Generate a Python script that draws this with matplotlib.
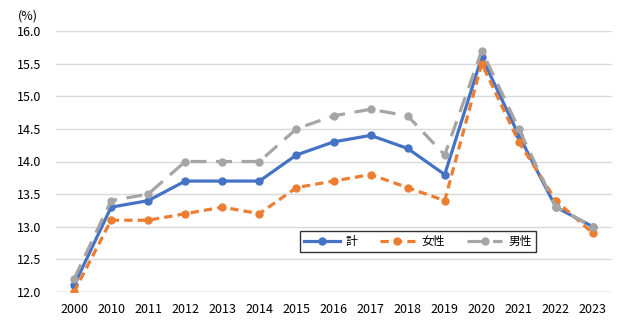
import matplotlib.pyplot as plt
import numpy as np

plt.rcParams['font.family'] = ['Noto Sans CJK JP', 'DejaVu Sans']

years = ['2000', '2010', '2011', '2012', '2013', '2014', '2015', '2016',
         '2017', '2018', '2019', '2020', '2021', '2022', '2023']
total = [12.1, 13.3, 13.4, 13.7, 13.7, 13.7, 14.1, 14.3, 14.4, 14.2, 13.8, 15.6, 14.4, 13.3, 13.0]
female = [12.0, 13.1, 13.1, 13.2, 13.3, 13.2, 13.6, 13.7, 13.8, 13.6, 13.4, 15.5, 14.3, 13.4, 12.9]
male = [12.2, 13.4, 13.5, 14.0, 14.0, 14.0, 14.5, 14.7, 14.8, 14.7, 14.1, 15.7, 14.5, 13.3, 13.0]

fig = plt.figure(figsize=(6.17, 3.23), dpi=100)
ax = fig.add_axes([55.5 / 617, (323 - 292) / 323, 556 / 617, 261 / 323])

x = np.arange(len(years))
ax.plot(x, total, color='#4472C4', lw=2.3, marker='o', ms=5, label='計', zorder=2)
ax.plot(x, female, color='#ED7D31', lw=2.3, marker='o', ms=5, label='女性',
        dashes=(2.6, 1.6), zorder=3)
ax.plot(x, male, color='#A5A5A5', lw=2.3, marker='o', ms=5, label='男性',
        dashes=(5, 3), zorder=4)

ax.set_xlim(-0.5, len(years) - 0.5)
ax.set_ylim(12.0, 16.0)
ax.set_yticks(np.arange(12.0, 16.01, 0.5))
ax.set_yticklabels([f'{v:.1f}' for v in np.arange(12.0, 16.01, 0.5)])
ax.set_xticks(x)
ax.set_xticklabels(years)
ax.tick_params(length=0, labelsize=9, colors='#000000')
ax.tick_params(axis='y', pad=10)
ax.tick_params(axis='x', pad=8)
ax.grid(axis='y', color='#D9D9D9', lw=1)
ax.set_axisbelow(True)
for s in ax.spines.values():
    s.set_visible(False)
ax.axhline(12.0, color='#D9D9D9', lw=1, zorder=0)

fig.text(18 / 617, 1 - 16 / 323, '(%)', fontsize=9, va='center')

leg = ax.legend(loc='upper left', bbox_to_anchor=(0.44, 0.234), borderaxespad=0,
                ncol=3, fontsize=8.5, frameon=True, fancybox=False, edgecolor='black',
                handlelength=3.0, columnspacing=1.9, borderpad=0.35, handletextpad=0.5)
leg.get_frame().set_linewidth(1)

fig.savefig('out.png', dpi=100)
